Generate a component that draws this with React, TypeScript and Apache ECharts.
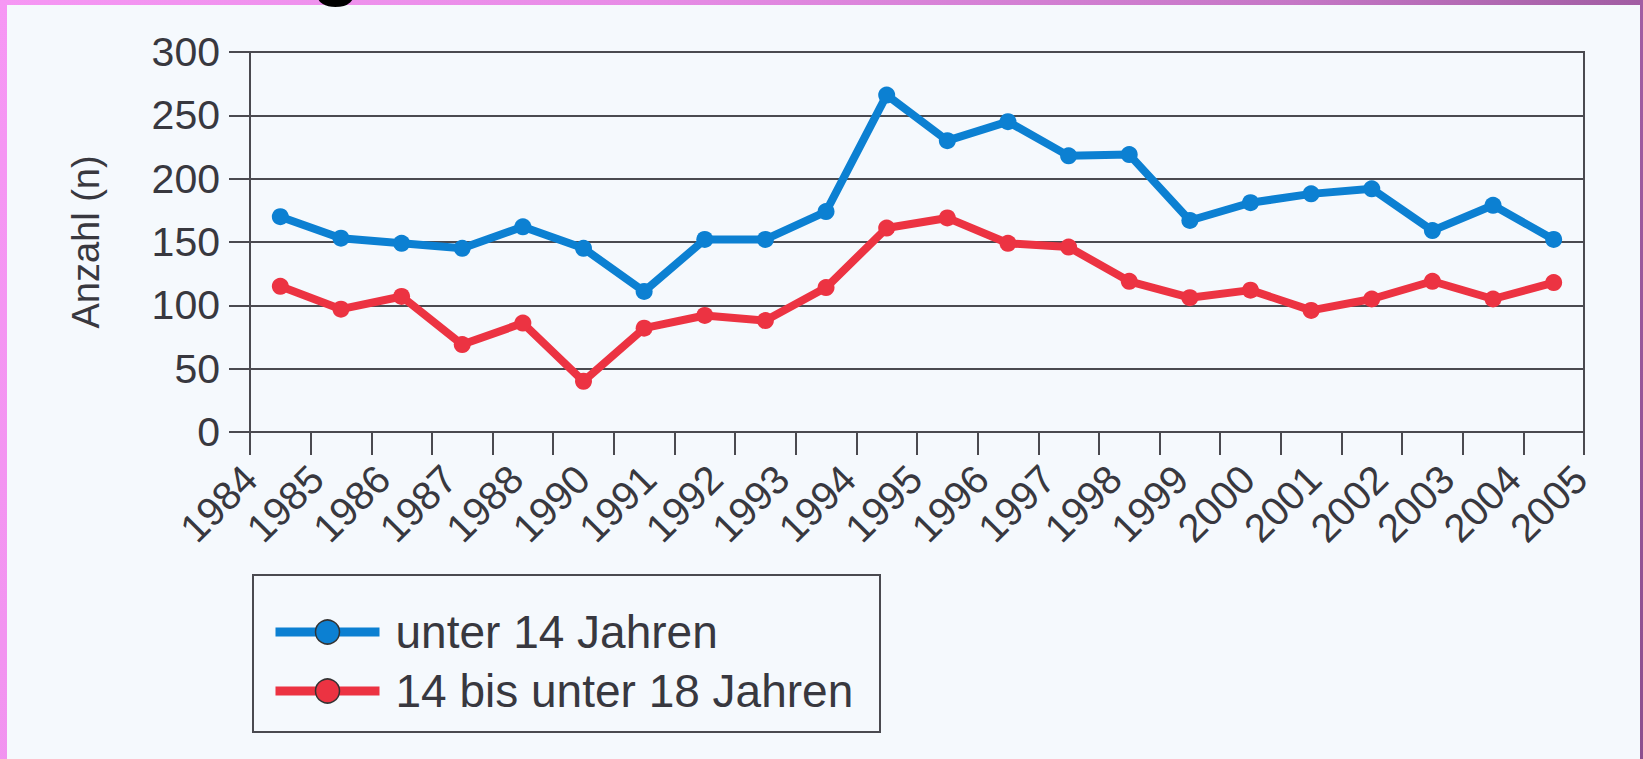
import React, { useEffect, useRef } from "react";
import * as echarts from "echarts";

// Years of the data points (one point per year)
const years = [
  "1984", "1985", "1986", "1987", "1988", "1989", "1990", "1991", "1992", "1993", "1994",
  "1995", "1996", "1997", "1998", "1999", "2000", "2001", "2002", "2003", "2004", "2005",
];
// Tick labels as printed in the original (1989 is missing there)
const tickLabels = [
  "1984", "1985", "1986", "1987", "1988", "1990", "1991", "1992", "1993", "1994", "1995",
  "1996", "1997", "1998", "1999", "2000", "2001", "2002", "2003", "2004", "2005",
];
const under14 = [170, 153, 149, 145, 162, 145, 111, 152, 152, 174, 266, 230, 245, 218, 219, 167, 181, 188, 192, 159, 179, 152];
const age14to18 = [115, 97, 107, 69, 86, 40, 82, 92, 88, 114, 161, 169, 149, 146, 119, 106, 112, 96, 105, 119, 105, 118];
const yTicks = { min: 0, max: 300, interval: 50 };

const FONT = "'Liberation Sans', Arial, Helvetica, sans-serif";
const TEXT = "#38383f";
const LINE = "#4a4a50";
const BLUE = "#0c80d2";
const RED = "#ec3342";

export default function App() {
  const ref = useRef<HTMLDivElement>(null);
  useEffect(() => {
    if (!ref.current) return;
    const chart = echarts.init(ref.current, null, { renderer: "svg" });
    chart.setOption({
      animation: false,
      backgroundColor: "transparent",
      textStyle: { fontFamily: FONT },
      grid: [
        { left: 250, top: 52, width: 1334, height: 380, show: true, borderColor: LINE, borderWidth: 2, backgroundColor: "transparent", outerBoundsMode: "none" },
        { left: 250, top: 52, width: 1330, height: 380, show: false, outerBoundsMode: "none" },
      ],
      xAxis: [
        {
          type: "category",
          gridIndex: 0,
          data: years,
          boundaryGap: true,
          position: "bottom",
          axisLine: { show: true, lineStyle: { color: LINE, width: 2 } },
          axisTick: { show: true, length: 23, lineStyle: { color: LINE, width: 2 } },
          axisLabel: { show: false },
          splitLine: { show: false },
        },
        {
          type: "category",
          gridIndex: 1,
          data: tickLabels,
          boundaryGap: false,
          position: "bottom",
          axisLine: { show: false },
          axisTick: { show: false },
          splitLine: { show: false },
          axisLabel: { show: true, interval: 0, rotate: 45, margin: 40, fontSize: 40, color: TEXT, fontFamily: FONT },
        },
      ],
      yAxis: [
        {
          type: "value",
          gridIndex: 0,
          min: yTicks.min,
          max: yTicks.max,
          interval: yTicks.interval,
          name: "Anzahl (n)",
          nameLocation: "middle",
          nameRotate: 90,
          nameGap: 145,
          nameTextStyle: { fontSize: 38, color: TEXT, fontFamily: FONT },
          axisLine: { show: true, lineStyle: { color: LINE, width: 2 } },
          axisTick: { show: true, length: 21, lineStyle: { color: LINE, width: 2 } },
          axisLabel: { fontSize: 41, margin: 30, color: TEXT, fontFamily: FONT },
          splitLine: { show: true, lineStyle: { color: LINE, width: 2 } },
        },
        { type: "value", gridIndex: 1, show: false, min: 0, max: 300 },
      ],
      legend: {
        orient: "vertical",
        left: 271,
        top: 607,
        padding: 0,
        itemWidth: 104,
        itemHeight: 30,
        itemGap: 9,
        lineStyle: { width: 9 },
        itemStyle: { borderColor: "#333", borderWidth: 1.5 },
        textStyle: { fontSize: 46, lineHeight: 50, color: TEXT, fontFamily: FONT, padding: [0, 0, 0, 11] },
        data: ["unter 14 Jahren", "14 bis unter 18 Jahren"],
      },
      graphic: [
        {
          type: "rect",
          shape: { x: 253, y: 575, width: 627, height: 157 },
          style: { fill: "none", stroke: LINE, lineWidth: 2 },
        },
        {
          type: "text",
          x: 312,
          y: -78,
          style: { text: "g", fontSize: 80, fontFamily: FONT, fill: "#000", fontWeight: "bold" },
        },
      ],
      series: [
        {
          name: "unter 14 Jahren",
          type: "line",
          xAxisIndex: 0,
          yAxisIndex: 0,
          data: under14,
          symbol: "circle",
          symbolSize: 17,
          itemStyle: { color: BLUE },
          lineStyle: { color: BLUE, width: 8 },
          z: 3,
        },
        {
          name: "14 bis unter 18 Jahren",
          type: "line",
          xAxisIndex: 0,
          yAxisIndex: 0,
          data: age14to18,
          symbol: "circle",
          symbolSize: 17,
          itemStyle: { color: RED },
          lineStyle: { color: RED, width: 8 },
          z: 3,
        },
      ],
    });
    return () => chart.dispose();
  }, []);

  return (
    <div
      style={{
        position: "fixed",
        left: 0,
        top: 0,
        width: 1643,
        height: 759,
        background: "linear-gradient(105deg, #f697f4 0%, #e78ce6 35%, #c577c6 70%, #8c4e8e 100%)",
        overflow: "hidden",
      }}
    >
      <div style={{ position: "absolute", left: 7, top: 5, width: 1633, height: 754, background: "#f5f9fd" }} />
      <div ref={ref} style={{ position: "absolute", left: 0, top: 0, width: 1643, height: 759 }} />
    </div>
  );
}
